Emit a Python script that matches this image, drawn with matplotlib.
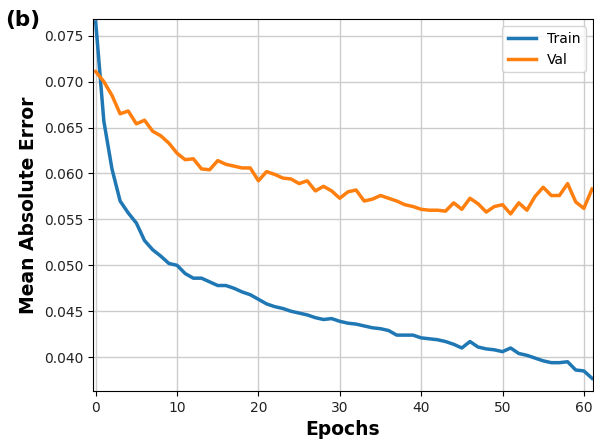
import numpy as np
import matplotlib.pyplot as plt

# values, one per epoch (0..61)
train_mae = [0.0765, 0.0657, 0.0605, 0.0570, 0.0557, 0.0546, 0.0527, 0.0517, 0.0510, 0.0502,
             0.0500, 0.0491, 0.0486, 0.0486, 0.0482, 0.0478, 0.0478, 0.0475, 0.0471, 0.0468,
             0.0463, 0.0458, 0.0455, 0.0453, 0.0450, 0.0448, 0.0446, 0.0443, 0.0441, 0.0442,
             0.0439, 0.0437, 0.0436, 0.0434, 0.0432, 0.0431, 0.0429, 0.0424, 0.0424, 0.0424,
             0.0421, 0.0420, 0.0419, 0.0417, 0.0414, 0.0410, 0.0417, 0.0411, 0.0409, 0.0408,
             0.0406, 0.0410, 0.0404, 0.0402, 0.0399, 0.0396, 0.0394, 0.0394, 0.0395, 0.0386,
             0.0385, 0.0377]
val_mae = [0.0711, 0.0700, 0.0685, 0.0665, 0.0668, 0.0654, 0.0658, 0.0646, 0.0641, 0.0633,
           0.0622, 0.0615, 0.0616, 0.0605, 0.0604, 0.0614, 0.0610, 0.0608, 0.0606, 0.0606,
           0.0592, 0.0602, 0.0599, 0.0595, 0.0594, 0.0589, 0.0592, 0.0581, 0.0586, 0.0581,
           0.0573, 0.0580, 0.0582, 0.0570, 0.0572, 0.0576, 0.0573, 0.0570, 0.0566, 0.0564,
           0.0561, 0.0560, 0.0560, 0.0559, 0.0568, 0.0561, 0.0573, 0.0567, 0.0558, 0.0564,
           0.0566, 0.0556, 0.0568, 0.0560, 0.0575, 0.0585, 0.0576, 0.0576, 0.0589, 0.0569,
           0.0562, 0.0583]
epochs = np.arange(len(train_mae))

fig = plt.figure(figsize=(5.94, 4.46), dpi=100)
ax = fig.add_axes([0.157, 0.123, 0.841, 0.834])

ax.plot(epochs, train_mae, color="#1f77b4", lw=2.5, label="Train")
ax.plot(epochs, val_mae, color="#ff7f0e", lw=2.5, label="Val")

ax.set_xlim(-0.3, 61.1)
ax.set_ylim(0.0363, 0.0768)
ax.set_yticks([0.040, 0.045, 0.050, 0.055, 0.060, 0.065, 0.070, 0.075])
ax.set_xticks([0, 10, 20, 30, 40, 50, 60])
ax.tick_params(labelsize=10, labelcolor="#222222")
ax.grid(True, color="#cccccc", lw=1)

ax.set_xlabel("Epochs", fontsize=13.5, fontweight="bold")
ax.set_ylabel("Mean Absolute Error", fontsize=13.5, fontweight="bold")
ax.legend(loc="upper right", fontsize=10)

fig.text(0.008, 0.955, "(b)", fontsize=15.5, fontweight="bold", va="center")

fig.savefig("out.png", dpi=100)
